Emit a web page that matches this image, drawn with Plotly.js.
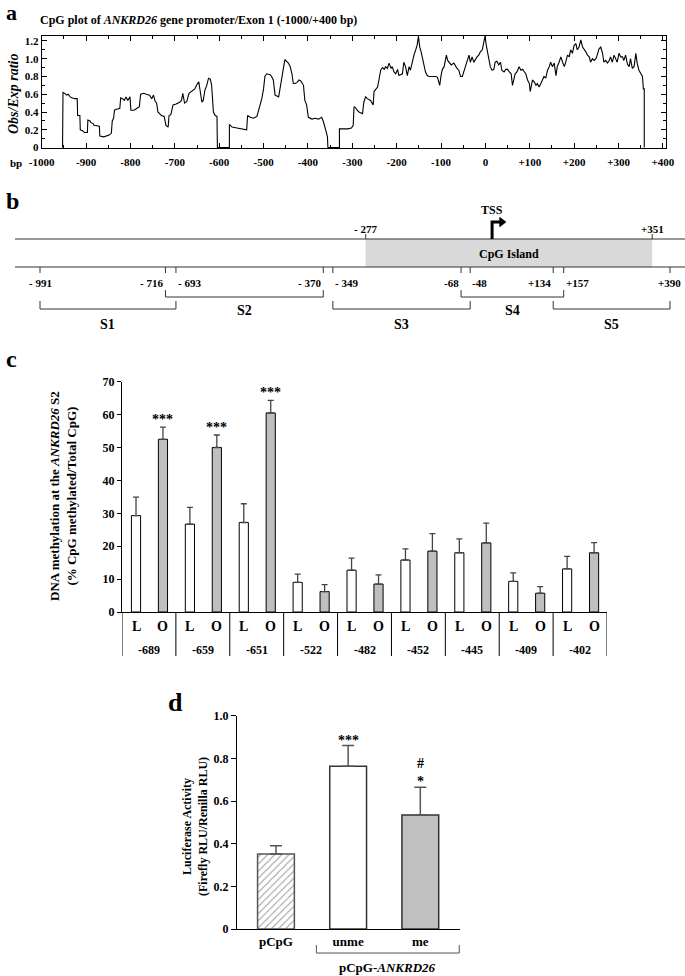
<!DOCTYPE html>
<html><head><meta charset="utf-8">
<script src="https://cdn.plot.ly/plotly-3.0.1.min.js"></script>
<style>html,body{margin:0;padding:0;background:#fff}#chart{width:685px;height:976px}</style>
</head><body><div id="chart"></div>
<script>
// ---------- Panel a: CpG obs/exp ratio ----------
const cpgBp = [-953,-952,-948,-944,-940,-936,-932,-926,-920,-919,-914,-913,-908,-904,-897,-896,-891,-889,-884,-882,-870,-869,-860,-854,-848,-843,-841,-838,-836,-832,-824,-822,-818,-814,-810,-806,-801,-799,-792,-786,-780,-777,-770,-764,-757,-752,-748,-745,-741,-738,-730,-724,-720,-715,-713,-709,-704,-697,-689,-685,-682,-678,-673,-668,-663,-659,-655,-651,-646,-639,-636,-632,-628,-624,-620,-617,-613,-609,-605,-604,-577,-577,-571,-560,-549,-538,-536,-530,-523,-515,-511,-504,-500,-497,-493,-485,-482,-478,-474,-466,-464,-460,-455,-452,-448,-444,-440,-436,-433,-429,-425,-420,-416,-410,-407,-403,-399,-391,-384,-376,-369,-365,-360,-356,-355,-329,-329,-320,-310,-302,-298,-296,-293,-289,-285,-277,-274,-270,-266,-259,-253,-251,-247,-243,-240,-236,-232,-228,-225,-221,-217,-213,-210,-206,-202,-198,-195,-187,-184,-180,-176,-172,-169,-165,-161,-157,-154,-151,-148,-145,-141,-138,-135,-131,-127,-120,-112,-108,-103,-100,-97,-93,-88,-85,-81,-77,-71,-67,-64,-60,-56,-52,-49,-45,-41,-37,-34,-30,-26,-22,-19,-15,-11,-7,-4,-1,2,4,7,11,15,19,22,26,30,34,37,42,46,50,54,58,61,64,67,71,76,80,84,88,91,95,99,101,103,106,110,114,117,121,125,129,132,136,140,144,147,151,155,159,162,166,170,174,178,181,185,189,192,196,200,204,207,211,215,219,222,226,230,234,237,241,245,249,252,256,260,264,267,271,275,279,282,286,290,294,297,301,305,309,312,316,320,324,327,331,335,339,342,346,350,354,356,358,358];
const cpgRatio = [0,0.62,0.61,0.59,0.60,0.57,0.56,0.55,0.55,0.36,0.36,0.20,0.19,0.17,0.17,0.31,0.30,0.28,0.27,0.25,0.24,0.13,0.12,0.13,0.14,0.16,0.30,0.33,0.42,0.43,0.44,0.56,0.55,0.53,0.57,0.53,0.57,0.42,0.42,0.44,0.46,0.60,0.61,0.60,0.59,0.55,0.59,0.53,0.50,0.40,0.36,0.35,0.25,0.23,0.36,0.37,0.48,0.49,0.51,0.53,0.61,0.50,0.52,0.61,0.63,0.65,0.66,0.70,0.74,0.51,0.53,0.65,0.70,0.78,0.77,0.70,0.40,0.36,0.35,0,0,0.26,0.23,0.22,0.21,0.20,0.36,0.34,0.33,0.35,0.42,0.55,0.66,0.80,0.83,0.82,0.80,0.76,0.59,0.57,0.63,0.76,0.87,0.99,0.97,0.95,0.91,0.83,0.72,0.72,0.73,0.76,0.75,0.70,0.53,0.48,0.34,0.32,0.33,0.32,0.34,0.29,0.20,0.12,0,0,0.21,0.21,0.21,0.22,0.25,0.46,0.45,0.42,0.40,0.38,0.51,0.57,0.55,0.53,0.48,0.63,0.66,0.68,0.76,0.87,0.90,0.88,0.91,0.89,0.95,0.89,0.91,0.85,0.83,0.88,0.81,0.83,0.96,0.91,0.81,0.91,0.87,0.96,1.04,1.10,1.15,1.25,1.13,1.08,0.98,0.94,0.85,0.81,0.80,0.80,0.80,0.79,0.70,0.81,0.88,0.91,1.04,0.98,0.96,0.93,0.95,0.91,0.89,0.87,0.80,0.80,0.85,0.90,0.98,1.04,0.96,1.02,0.96,1.00,1.02,1.04,1.08,1.10,1.17,1.25,1.15,1.10,1.00,0.91,0.87,0.88,0.96,0.97,0.93,0.96,0.87,0.85,0.88,0.88,0.85,0.83,0.70,0.78,0.83,0.85,0.91,0.87,0.88,0.85,0.83,0.76,0.72,0.63,0.67,0.76,0.74,0.70,0.72,0.68,0.72,0.76,0.80,0.78,0.87,0.91,0.96,0.91,0.95,0.81,0.91,0.96,1.02,0.96,0.91,0.96,1.04,1.02,1.10,1.06,1.15,1.17,1.10,1.13,1.21,1.13,1.11,1.08,1.04,1.02,0.96,1.00,0.98,1.00,1.04,1.11,1.13,1.06,0.96,0.98,0.95,0.98,1.02,0.96,1.04,1.00,0.96,1.06,1.02,1.02,0.98,1.04,0.94,0.91,1.00,0.89,0.91,1.06,0.95,0.87,0.83,0.80,0.66,0.66,0];
const aTickVals = [-1000,-900,-800,-700,-600,-500,-400,-300,-200,-100,0,100,200,300,400];
const aTickText = ["-1000","-900","-800","-700","-600","-500","-400","-300","-200","-100","0","+100","+200","+300","+400"];
const aYTickVals = [0,0.2,0.4,0.6,0.8,1.0,1.2];
const aYTickText = ["0","0.2","0.4","0.6","0.8","1.0","1.2"];

// ---------- Panel b: promoter schematic ----------
const islandStart = -277, islandEnd = 351, tssPos = 0;
const islandLabels = ["- 277", "+351"];
const sitePos = [-991,-716,-693,-370,-349,-68,-48,134,157,390];
const siteLabels = ["- 991","- 716","- 693","- 370","- 349","-68","-48","+134","+157","+390"];
const segNames = ["S1","S2","S3","S4","S5"];
const segStart = [-991,-716,-349,-68,134];
const segEnd = [-693,-370,-48,157,390];

// ---------- Panel c: DNA methylation at S2 ----------
const cpgSites = ["-689","-659","-651","-522","-482","-452","-445","-409","-402"];
const methL = [29.3,26.7,27.2,9.0,12.7,15.8,18.0,9.3,13.1];
const errL  = [5.6,5.1,5.7,2.5,3.7,3.4,4.2,2.6,3.8];
const methO = [52.5,50.0,60.5,6.2,8.5,18.5,21.0,5.7,18.0];
const errO  = [3.7,3.8,3.8,2.1,2.8,5.3,6.0,2.0,3.1];
const sigO  = ["***","***","***","","","","","",""];
const groupNames = ["L","O"];

// ---------- Panel d: luciferase ----------
const constructs = ["pCpG","unme","me"];
const luc    = [0.352,0.763,0.535];
const lucErr = [0.038,0.097,0.130];
const lucSig  = ["","***","*"];
const lucSig2 = ["","","#"];
const bracketLabel = "pCpG-<i>ANKRD26</i>";

// ---------- helpers ----------
const W = 685, H = 976;
const X = px => px / W;
const Y = py => 1 - py / H;
const FONT = "Liberation Serif, Times New Roman, serif";
const zeros = n => new Array(n).fill(0);
const mids = v => v.slice(0, -1).map((a, i) => (a + v[i + 1]) / 2);

const shapes = [];
const annotations = [];
function fnt(size, extra) { return Object.assign({family:FONT, size, color:'#000', weight:'bold'}, extra || {}); }
function ann(text, x, y, o) {
  annotations.push(Object.assign({text, x, y, xref:'paper', yref:'paper', showarrow:false,
    xanchor:'center', yanchor:'middle', font:fnt(12)}, o || {}));
}

// panel letters
ann("a", X(4), Y(13), {xanchor:'left', font:fnt(22)});
ann("b", X(4), Y(201), {xanchor:'left', font:fnt(24)});
ann("c", X(4), Y(359), {xanchor:'left', font:fnt(24)});
ann("d", X(166), Y(702), {xanchor:'left', font:fnt(26)});

// ---------- panel a annotations ----------
ann("CpG plot of <i>ANKRD26</i> gene promoter/Exon 1 (-1000/+400 bp)", X(38), Y(20), {xanchor:'left', font:fnt(12)});
ann("<i>Obs/Exp ratio</i>", X(13), Y(94), {textangle:-90, font:fnt(14)});
ann("bp", X(16), Y(163), {font:fnt(11)});

// ---------- panel b shapes ----------
const lineTop = 239, lineBot = 267;
shapes.push({type:'rect', xref:'x2', yref:'paper', x0:islandStart, x1:islandEnd, y0:Y(lineBot), y1:Y(lineTop),
  fillcolor:'#d9d9d9', line:{width:0}, layer:'below'});
[lineTop, lineBot].forEach(py => shapes.push({type:'line', xref:'paper', yref:'paper', x0:X(15), x1:1, y0:Y(py), y1:Y(py), line:{color:'#333', width:1}}));
[islandStart, islandEnd].forEach((p, i) => {
  shapes.push({type:'line', xref:'x2', yref:'paper', x0:p, x1:p, y0:Y(lineTop), y1:Y(lineTop-5), line:{color:'#333', width:1}});
  ann(islandLabels[i], p, Y(229), {xref:'x2', font:fnt(11)});
});
ann("CpG Island", (islandStart + islandEnd) / 2, Y(254), {xref:'x2', font:fnt(12)});
// TSS arrow
shapes.push({type:'path', xref:'x2', yref:'paper', path:`M ${tssPos},${Y(lineTop)} L ${tssPos},${Y(222)} L ${tssPos+20},${Y(222)}`, line:{color:'#000', width:3}});
shapes.push({type:'path', xref:'x2', yref:'paper', path:`M ${tssPos+17},${Y(217.5)} L ${tssPos+30},${Y(222)} L ${tssPos+17},${Y(226.5)} Z`, fillcolor:'#000', line:{color:'#000', width:1}});
ann("TSS", tssPos, Y(210), {xref:'x2', font:fnt(12)});
// site ticks + labels
sitePos.forEach((p, i) => {
  shapes.push({type:'line', xref:'x2', yref:'paper', x0:p, x1:p, y0:Y(lineBot), y1:Y(lineBot+6), line:{color:'#333', width:1}});
  let anchor = 'center';
  if (i < sitePos.length - 1 && sitePos[i+1] - p < 40) anchor = 'right';
  if (i > 0 && p - sitePos[i-1] < 40) anchor = 'left';
  ann(siteLabels[i], p, Y(283), {xref:'x2', xanchor:anchor, font:fnt(11)});
});
// segment brackets
segNames.forEach((s, i) => {
  const low = i % 2 === 0;
  const bar = low ? 309 : 297, end = low ? 301 : 290, lab = low ? 325 : 311;
  shapes.push({type:'path', xref:'x2', yref:'paper',
    path:`M ${segStart[i]},${Y(end)} L ${segStart[i]},${Y(bar)} L ${segEnd[i]},${Y(bar)} L ${segEnd[i]},${Y(end)}`,
    line:{color:'#333', width:1}});
  ann(s, (segStart[i] + segEnd[i]) / 2, Y(lab), {xref:'x2', font:fnt(14)});
});

// ---------- panel c ----------
const barW = 0.17, offL = -0.24, offO = 0.26;
for (let i = 0; i <= cpgSites.length; i++) {
  shapes.push({type:'line', xref:'x3', yref:'paper', x0:i-0.5, x1:i-0.5, y0:Y(612), y1:Y(656), line:{color:'#000', width:1}});
}
cpgSites.forEach((s, i) => {
  ann(groupNames[0], i + offL, Y(626), {xref:'x3', font:fnt(14)});
  ann(groupNames[1], i + offO, Y(626), {xref:'x3', font:fnt(14)});
  ann(s, i, Y(650), {xref:'x3', font:fnt(12)});
  if (sigO[i]) ann(sigO[i], i + offO, methO[i] + errO[i], {xref:'x3', yref:'y3', yanchor:'bottom', yshift:-2, font:fnt(14)});
});
ann("DNA methylation at the <i>ANKRD26</i> S2<br>(% CpG methylated/Total CpG)", X(63), Y(496), {textangle:-90, font:fnt(13)});

// ---------- panel d ----------
constructs.forEach((c, i) => {
  const t = lucSig2[i] ? lucSig2[i] + "<br>" + lucSig[i] : lucSig[i];
  if (t) ann(t, i, luc[i] + lucErr[i], {xref:'x4', yref:'y4', yanchor:'bottom', yshift:-4, font:fnt(14)});
});
ann("Luciferase Activity<br>(Firefly RLU/Renilla RLU)", X(195), Y(827), {textangle:-90, font:fnt(12)});
shapes.push({type:'path', xref:'x4', yref:'paper', path:`M 0.56,${Y(945)} L 0.56,${Y(953)} L 2.54,${Y(953)} L 2.54,${Y(945)}`, line:{color:'#555', width:1}});
ann(bracketLabel, 1.55, Y(967), {xref:'x4', font:fnt(13)});

// ---------- traces ----------
const errD = (v, e) => ({type:'data', symmetric:false, array:e, arrayminus:zeros(v.length), color:'#555', thickness:1.5, width:6});
const traces = [
  {type:'scatter', mode:'lines', x:cpgBp, y:cpgRatio, xaxis:'x', yaxis:'y', line:{color:'#000', width:1.1}, hoverinfo:'skip'},
  {type:'scatter', mode:'markers', x:sitePos, y:zeros(sitePos.length), xaxis:'x2', yaxis:'y2', marker:{opacity:0}, hoverinfo:'skip'},
  {type:'bar', x:cpgSites, y:methL, xaxis:'x3', yaxis:'y3', width:barW, offset:offL - barW/2,
    marker:{color:'#fff', line:{color:'#000', width:1}},
    error_y:{type:'data', symmetric:false, array:errL, arrayminus:zeros(errL.length), color:'#444', thickness:1.3, width:3}},
  {type:'bar', x:cpgSites, y:methO, xaxis:'x3', yaxis:'y3', width:barW, offset:offO - barW/2,
    marker:{color:'#bfbfbf', line:{color:'#000', width:1}},
    error_y:{type:'data', symmetric:false, array:errO, arrayminus:zeros(errO.length), color:'#444', thickness:1.3, width:3}},
  {type:'bar', x:constructs.slice(0,1), y:luc.slice(0,1), xaxis:'x4', yaxis:'y4', width:0.51,
    marker:{color:'#fff', line:{color:'#555', width:1.5},
      pattern:{shape:'/', fgcolor:'#9a9a9a', bgcolor:'#fff', size:5, solidity:0.2}},
    error_y:errD(luc.slice(0,1), lucErr.slice(0,1))},
  {type:'bar', x:constructs.slice(1), y:luc.slice(1), xaxis:'x4', yaxis:'y4', width:0.51,
    marker:{color:['#fff','#c0c0c0'], line:{color:'#333', width:1.5}},
    error_y:errD(luc.slice(1), lucErr.slice(1))}
];

const axBase = {showgrid:false, zeroline:false, linecolor:'#000', linewidth:1, tickcolor:'#000', fixedrange:true};
const layout = {
  width:W, height:H, margin:{l:0, r:0, t:0, b:0}, paper_bgcolor:'#fff', plot_bgcolor:'rgba(0,0,0,0)',
  showlegend:false, barmode:'overlay',
  font:{family:FONT, size:12, color:'#000', weight:'bold'},
  xaxis:Object.assign({}, axBase, {domain:[X(41.7), X(666)], range:[-1000,407], anchor:'y',
    tickmode:'array', tickvals:aTickVals, ticktext:aTickText, ticks:'inside', ticklen:5, ticklabelstandoff:4,
    minor:{tickmode:'array', tickvals:mids(aTickVals), ticks:'inside', ticklen:3, tickcolor:'#000'},
    showline:true, mirror:'allticks', tickfont:fnt(11)}),
  yaxis:Object.assign({}, axBase, {domain:[Y(148), Y(36)], range:[-0.005,1.255], anchor:'x',
    tickmode:'array', tickvals:aYTickVals, ticktext:aYTickText, ticks:'inside', ticklen:5,
    minor:{tickmode:'array', tickvals:mids(aYTickVals), ticks:'inside', ticklen:3, tickcolor:'#000'},
    showline:true, mirror:'allticks', tickfont:fnt(11)}),
  xaxis2:Object.assign({}, axBase, {domain:[0,1], range:[-1078.7,422.9], anchor:'y2', visible:false}),
  yaxis2:Object.assign({}, axBase, {domain:[Y(340), Y(200)], range:[0,1], anchor:'x2', visible:false}),
  xaxis3:Object.assign({}, axBase, {domain:[X(122), X(607)], type:'category', range:[-0.5, cpgSites.length-0.5], anchor:'y3',
    showline:true, ticks:'', showticklabels:false}),
  yaxis3:Object.assign({}, axBase, {domain:[Y(612), Y(381.7)], range:[0,70], dtick:10, anchor:'x3',
    showline:true, ticks:'outside', ticklen:4, tickfont:fnt(12)}),
  xaxis4:Object.assign({}, axBase, {domain:[X(237), X(460)], type:'category', categoryarray:constructs, categoryorder:'array',
    range:[-0.54,2.55], anchor:'y4', showline:true, ticks:'', tickfont:fnt(13)}),
  yaxis4:Object.assign({}, axBase, {domain:[Y(929), Y(715.7)], range:[0,1], anchor:'x4',
    tickmode:'array', tickvals:[0,0.2,0.4,0.6,0.8,1.0], ticktext:["0","0.2","0.4","0.6","0.8","1.0"],
    showline:true, ticks:'outside', ticklen:5, tickfont:fnt(12)}),
  shapes, annotations
};
Plotly.newPlot('chart', traces, layout, {displayModeBar:false, staticPlot:true});
</script></body></html>
